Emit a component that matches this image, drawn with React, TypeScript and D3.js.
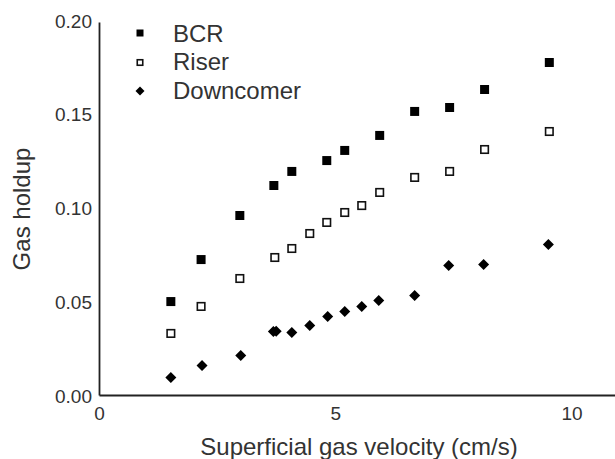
import React from "react";
import * as d3 from "d3";

const bcrX = [1.51, 2.15, 2.97, 3.69, 4.07, 4.81, 5.19, 5.93, 6.67, 7.41, 8.15, 9.52];
const bcrY = [0.0501, 0.0725, 0.096, 0.112, 0.1195, 0.1253, 0.1307, 0.1387, 0.1515, 0.1536, 0.1632, 0.1776];

const riserX = [1.51, 2.15, 2.97, 3.71, 4.07, 4.45, 4.81, 5.19, 5.55, 5.93, 6.67, 7.41, 8.15, 9.52];
const riserY = [0.0331, 0.0475, 0.0624, 0.0736, 0.0784, 0.0864, 0.0923, 0.0976, 0.1013, 0.1083, 0.1163, 0.1195, 0.1312, 0.1408];

const downX = [1.51, 2.17, 2.99, 3.68, 3.74, 4.07, 4.45, 4.83, 5.19, 5.55, 5.91, 6.67, 7.39, 8.13, 9.5];
const downY = [0.0096, 0.016, 0.0213, 0.0341, 0.0343, 0.0336, 0.0373, 0.0421, 0.0448, 0.0475, 0.0507, 0.0533, 0.0693, 0.0699, 0.0805];

const xTicks = [0, 5, 10];
const yTicks = [0, 0.05, 0.1, 0.15, 0.2];
const legendLabels = ["BCR", "Riser", "Downcomer"];

const W = 615;
const H = 459;
const FONT = "'Liberation Sans', Arial, sans-serif";
const TEXT = "#333";

export default function App() {
  const x = d3.scaleLinear().domain([0, 11]).range([99.5, 99.5 + 11 * 47.25]);
  const y = d3.scaleLinear().domain([0, 0.2]).range([395.5, 20.5]);

  const sq = (cx: number, cy: number, s: number, filled: boolean, key: string) => (
    filled ? (
      <rect key={key} x={cx - s / 2} y={cy - s / 2} width={s} height={s} fill="#000" />
    ) : (
      <rect key={key} x={cx - s / 2 + 0.75} y={cy - s / 2 + 0.75} width={s - 1.5} height={s - 1.5} fill="#fff" stroke="#111" strokeWidth={1.6} />
    )
  );
  const diamond = (cx: number, cy: number, r: number, key: string) => (
    <path key={key} d={`M${cx},${cy - r}L${cx + r},${cy}L${cx},${cy + r}L${cx - r},${cy}Z`} fill="#000" />
  );

  return (
    <svg width={W} height={H} style={{ position: "absolute", left: 0, top: 0, background: "#fff" }}>
      <rect width={W} height={H} fill="#fff" />
      {/* axes */}
      <line x1={x(0)} x2={x(0)} y1={y(0.2) + 2} y2={y(0)} stroke="#222" strokeWidth={1.8} />
      <line x1={x(0)} x2={W} y1={y(0)} y2={y(0)} stroke="#222" strokeWidth={1.8} />

      {yTicks.map((t) => (
        <text key={"y" + t} x={92} y={y(t) + 7} textAnchor="end" fontFamily={FONT} fontSize={19} fill={TEXT}>
          {d3.format(".2f")(t)}
        </text>
      ))}
      {xTicks.map((t) => (
        <text key={"x" + t} x={x(t)} y={420} textAnchor="middle" fontFamily={FONT} fontSize={19} fill={TEXT}>
          {t}
        </text>
      ))}

      <text x={359} y={455} textAnchor="middle" fontFamily={FONT} fontSize={24} fill={TEXT}>
        Superficial gas velocity (cm/s)
      </text>
      <text transform={`translate(30,209) rotate(-90)`} textAnchor="middle" fontFamily={FONT} fontSize={24} fill={TEXT}>
        Gas holdup
      </text>

      {/* data */}
      {downX.map((v, i) => diamond(x(v), y(downY[i]), 5.5, "d" + i))}
      {riserX.map((v, i) => sq(x(v), y(riserY[i]), 9, false, "r" + i))}
      {bcrX.map((v, i) => sq(x(v), y(bcrY[i]), 9, true, "b" + i))}

      {/* legend */}
      {sq(140, 33, 7, true, "lb")}
      {sq(140, 62.5, 7, false, "lr")}
      {diamond(140, 91, 4.5, "ld")}
      {legendLabels.map((l, i) => (
        <text key={l} x={173} y={41.5 + i * 28.7} fontFamily={FONT} fontSize={24} fill={TEXT}>
          {l}
        </text>
      ))}
    </svg>
  );
}
